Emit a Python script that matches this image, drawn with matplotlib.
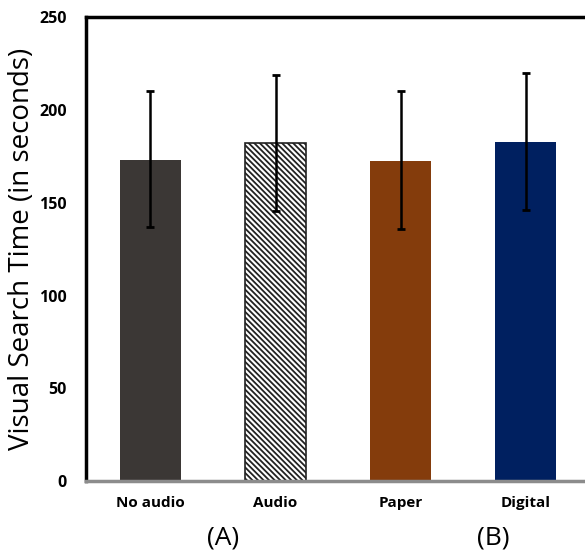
import numpy as np
import matplotlib.pyplot as plt

# %% data
categories = ['No audio', 'Audio', 'Paper', 'Digital']
means = [173, 182, 172.5, 182.5]
err_low = [36, 36.5, 36.5, 36.5]
err_high = [37, 37, 37.5, 37.5]
group_labels = ['(A)', '(B)']

colors = ['#3b3735', 'white', '#843c0c', '#002060']
hatches = [None, '\\\\\\\\\\\\', None, None]

plt.rcParams['hatch.linewidth'] = 1.3

# %% plot
fig = plt.figure(figsize=(5.85, 5.53), dpi=100)
ax = fig.add_axes([0.147, 0.130, 0.88, 0.839])

x = np.arange(len(categories))
bars = ax.bar(x, means, width=0.49, color=colors, edgecolor='none')
for b, h in zip(bars, hatches):
    if h:
        b.set_hatch(h)
        b.set_edgecolor('#222222')
        b.set_linewidth(1.2)

ax.errorbar(x, means, yerr=[err_low, err_high], fmt='none', ecolor='black',
            elinewidth=1.8, capsize=3, capthick=2)

ax.set_ylim(0, 250)
ax.set_xlim(-0.515, 3.6)
ax.set_yticks([0, 50, 100, 150, 200, 250])
ax.set_xticks(x)
ax.set_xticklabels(categories, fontsize=11, fontweight='bold', family='Open Sans')
for lab in ax.get_yticklabels():
    lab.set_fontsize(11.5)
    lab.set_fontweight('bold')
    lab.set_family('Open Sans')
ax.tick_params(length=0)
ax.tick_params(axis='y', pad=14)
ax.tick_params(axis='x', pad=11)

ax.set_ylabel('Visual Search Time (in seconds)', fontsize=20, family='Open Sans',
              labelpad=2)

for s in ['left', 'top', 'right']:
    ax.spines[s].set_linewidth(2.5)
    ax.spines[s].set_color('black')
ax.spines['bottom'].set_linewidth(2.5)
ax.spines['bottom'].set_color('#8c8c8c')

# group labels under the pairs (placed as in the original figure)
for xc, g in zip([0.58, 2.74], group_labels):
    ax.text(xc, -0.123, g, transform=ax.get_xaxis_transform(), ha='center',
            va='center', fontsize=19, family='Open Sans')

fig.savefig('out.png', dpi=100)
